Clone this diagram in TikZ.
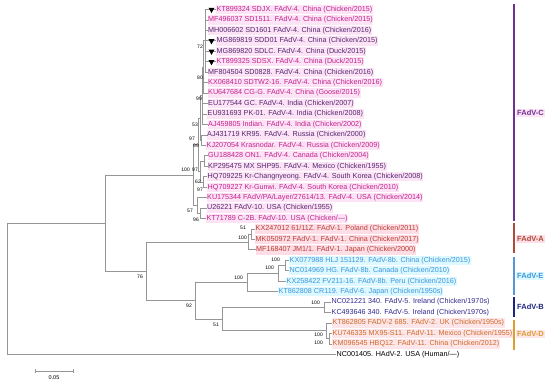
\documentclass[tikz,border=0pt]{standalone}
\usepackage{fontspec}
\setmainfont{Liberation Sans}
\usetikzlibrary{shapes.geometric}
\definecolor{treegray}{RGB}{150,150,150}
\definecolor{cdark}{RGB}{84,38,110}
\definecolor{cmag}{RGB}{196,32,140}
\definecolor{cA}{RGB}{186,60,50}
\definecolor{cE}{RGB}{58,150,220}
\definecolor{cB}{RGB}{48,40,140}
\definecolor{cD}{RGB}{205,105,35}
\definecolor{bgC}{RGB}{252,228,246}
\definecolor{bgA}{RGB}{253,222,230}
\definecolor{bgE}{RGB}{222,248,255}
\definecolor{bgD}{RGB}{253,230,234}
\definecolor{brC}{RGB}{112,48,146}
\definecolor{brA}{RGB}{176,74,56}
\definecolor{brE}{RGB}{88,150,220}
\definecolor{brB}{RGB}{30,36,128}
\definecolor{brD}{RGB}{222,158,46}
\tikzset{
  branch/.style={draw=treegray, line width=0.8pt},
  leafname/.style={anchor=west, inner xsep=0.5pt, inner ysep=1.3pt, font=\fontsize{7.2}{8}\selectfont},
  grpC/.style={leafname, fill=bgC},
  grpA/.style={leafname, fill=bgA, text=cA},
  grpE/.style={leafname, fill=bgE, text=cE},
  grpB/.style={leafname, text=cB},
  grpD/.style={leafname, fill=bgD, text=cD},
  boot/.style={anchor=east, inner sep=0pt, font=\fontsize{5}{5}\selectfont},
  clade/.style={anchor=west, inner sep=1pt, font=\fontsize{7.5}{8}\selectfont\bfseries},
  cladebar/.style={line width=1.5pt},
  tipmark/.style={regular polygon, regular polygon sides=3, shape border rotate=180,
    fill=black, inner sep=0pt, minimum size=7pt},
}

\begin{document}
\begin{tikzpicture}[x=1pt, y=-1pt]
  \useasboundingbox (0,0) rectangle (550,384);

%internal nodes:
  \coordinate (n72)  at (205,40.85);
  \coordinate (n80)  at (203.5,67.0);
  \coordinate (n99a) at (202.5,95.7);
  \coordinate (nRus) at (201,140.1);
  \coordinate (n53)  at (200,117.9);
  \coordinate (nOM)  at (204,161.0);
  \coordinate (nKor) at (203,181.9);
  \coordinate (nNA)  at (200.5,171.5);
  \coordinate (n99b) at (198.5,144.7);
  \coordinate (n96)  at (200,213.3);
  \coordinate (n57)  at (197,205.4);
  \coordinate (nC)   at (193,175.05);
  \coordinate (n51)  at (251,234.2);
  \coordinate (nA)   at (248,242.0);
  \coordinate (nE3)  at (285,265.5);
  \coordinate (nE2)  at (278,273.4);
  \coordinate (nE)   at (247,282.5);
  \coordinate (nB)   at (324,307.3);
  \coordinate (nD2)  at (329,338.7);
  \coordinate (nD)   at (326,330.8);
  \coordinate (n51b) at (222,319.1);
  \coordinate (n92)  at (195,300.8);
  \coordinate (n76)  at (146,271.4);
  \coordinate (nOut) at (105,223.2);
  \coordinate (n0)   at (7.5,288.8);

%leaves, FAdV-C:
  \node[grpC, text=cmag]  (s1)  at (216,9.5)    {KT899324 SDJX. FAdV-4. China (Chicken/2015)};
  \node[grpC, text=cmag]  (s2)  at (207.5,19.95) {MF496037 SD1511. FAdV-4. China (Chicken/2015)};
  \node[grpC, text=cdark] (s3)  at (207.5,30.4)  {MH006602 SD1601 FAdV-4. China (Chicken/2016)};
  \node[grpC, text=cdark] (s4)  at (216,40.85)  {MG869819 SDD01 FAdV-4. China (Chicken/2015)};
  \node[grpC, text=cdark] (s5)  at (216,51.3)   {MG869820 SDLC. FAdV-4. China (Duck/2015)};
  \node[grpC, text=cmag]  (s6)  at (216,61.75)  {KT899325 SDSX. FAdV-4. China (Duck/2015)};
  \node[grpC, text=cdark] (s7)  at (207.5,72.2)  {MF804504 SD0828. FAdV-4. China (Chicken/2016)};
  \node[grpC, text=cmag]  (s8)  at (207.5,82.65) {KX068410 SDTW2-16. FAdV-4. China (Chicken/2016)};
  \node[grpC, text=cmag]  (s9)  at (207.5,93.1)  {KU647684 CG-G. FAdV-4. China (Goose/2015)};
  \node[grpC, text=cdark] (s10) at (207.5,103.55) {EU177544 GC. FAdV-4. India (Chicken/2007)};
  \node[grpC, text=cdark] (s11) at (207,114.0)  {EU931693 PK-01. FAdV-4. India (Chicken/2008)};
  \node[grpC, text=cmag]  (s12) at (207.5,124.45) {AJ459805 Indian. FAdV-4. India (Chicken/2002)};
  \node[grpC, text=cdark] (s13) at (206.5,134.9) {AJ431719 KR95. FAdV-4. Russia (Chicken/2000)};
  \node[grpC, text=cmag]  (s14) at (206,145.35) {KJ207054 Krasnodar. FAdV-4. Russia (Chicken/2009)};
  \node[grpC, text=cmag]  (s15) at (207.5,155.8) {GU188428 ON1. FAdV-4. Canada (Chicken/2004)};
  \node[grpC, text=cdark] (s16) at (207.5,166.25) {KP295475 MX SHP95. FAdV-4. Mexico (Chicken/1955)};
  \node[grpC, text=cdark] (s17) at (207,176.7)  {HQ709225 Kr-Changnyeong. FAdV-4. South Korea (Chicken/2008)};
  \node[grpC, text=cmag]  (s18) at (207,187.15) {HQ709227 Kr-Gunwi. FAdV-4. South Korea (Chicken/2010)};
  \node[grpC, text=cmag]  (s19) at (206.5,197.6) {KU175344 FAdV/PA/Layer/27614/13. FAdV-4. USA (Chicken/2014)};
  \node[grpC, text=cdark] (s20) at (206.5,208.05) {U26221 FAdV-10. USA (Chicken/1955)};
  \node[grpC, text=cmag]  (s21) at (206,218.5)  {KT71789 C-2B. FAdV-10. USA (Chicken/---)};
%leaves, other groups:
  \node[grpA] (s22) at (255,228.95) {KX247012 61/11Z. FAdV-1. Poland (Chicken/2011)};
  \node[grpA] (s23) at (255,239.4)  {MK050972 FAdV-1. FAdV-1. China (Chicken/2017)};
  \node[grpA] (s24) at (255.5,249.85) {MF168407 JM1/1. FAdV-1. Japan (Chicken/2000)};
  \node[grpE] (s25) at (289,260.3)  {KX077988 HLJ 151129. FAdV-8b. China (Chicken/2015)};
  \node[grpE] (s26) at (289,270.75) {NC014969 HG. FAdV-8b. Canada (Chicken/2010)};
  \node[grpE] (s27) at (286,281.2)  {KX258422 FV211-16. FAdV-8b. Peru (Chicken/2016)};
  \node[grpE] (s28) at (278,291.65) {KT862808 CR119. FAdV-6. Japan (Chicken/1950s)};
  \node[grpB] (s29) at (331,302.1)  {NC021221 340. FAdV-5. Ireland (Chicken/1970s)};
  \node[grpB] (s30) at (331,312.55) {KC493646 340. FAdV-5. Ireland (Chicken/1970s)};
  \node[grpD] (s31) at (332,323.0)  {KT862805 FADV-2 685. FAdV-2. UK (Chicken/1950s)};
  \node[grpD] (s32) at (332,333.45) {KU746335 MX95-S11. FAdV-11. Mexico (Chicken/1955)};
  \node[grpD] (s33) at (332,343.9)  {KM096545 HBQ12. FAdV-11. China (Chicken/2012)};
  \node[leafname] (s34) at (336,354.35) {NC001405. HAdV-2. USA (Human/---)};

%branches:
  \foreach \s in {s1,s2,s3,s4,s5,s6,s7} \draw[branch] (n72) |- (\s.west);
  \foreach \c in {n72,s8.west,s9.west} \draw[branch] (n80) |- (\c);
  \foreach \c in {n80,s10.west,s11.west,s12.west} \draw[branch] (n99a) |- (\c);
  \foreach \c in {s13.west,s14.west} \draw[branch] (nRus) |- (\c);
  \foreach \c in {n99a,nRus} \draw[branch] (n53) |- (\c);
  \foreach \c in {s15.west,s16.west} \draw[branch] (nOM) |- (\c);
  \foreach \c in {s17.west,s18.west} \draw[branch] (nKor) |- (\c);
  \foreach \c in {nOM,nKor} \draw[branch] (nNA) |- (\c);
  \foreach \c in {n53,nNA} \draw[branch] (n99b) |- (\c);
  \foreach \c in {s20.west,s21.west} \draw[branch] (n96) |- (\c);
  \foreach \c in {s19.west,n96} \draw[branch] (n57) |- (\c);
  \foreach \c in {n99b,n57} \draw[branch] (nC) |- (\c);
  \foreach \c in {s22.west,s23.west} \draw[branch] (n51) |- (\c);
  \foreach \c in {n51,s24.west} \draw[branch] (nA) |- (\c);
  \foreach \c in {s25.west,s26.west} \draw[branch] (nE3) |- (\c);
  \foreach \c in {nE3,s27.west} \draw[branch] (nE2) |- (\c);
  \foreach \c in {nE2,s28.west} \draw[branch] (nE) |- (\c);
  \foreach \c in {s29.west,s30.west} \draw[branch] (nB) |- (\c);
  \foreach \c in {s32.west,s33.west} \draw[branch] (nD2) |- (\c);
  \foreach \c in {s31.west,nD2} \draw[branch] (nD) |- (\c);
  \foreach \c in {nB,nD} \draw[branch] (n51b) |- (\c);
  \foreach \c in {nE,n51b} \draw[branch] (n92) |- (\c);
  \foreach \c in {nA,n92} \draw[branch] (n76) |- (\c);
  \foreach \c in {nC,n76} \draw[branch] (nOut) |- (\c);
  \foreach \c in {nOut,s34.west} \draw[branch] (n0) |- (\c);

%markers:
  \foreach \s in {s1,s4,s5,s6} \node[tipmark] (m\s) at ([xshift=-4.5pt]\s.west) {};

%bootstrap values:
  \node[boot] (b1)  at (203,47)  {72};
  \node[boot] (b2)  at (203,78)  {80};
  \node[boot] (b3)  at (202,99)  {99};
  \node[boot] (b4)  at (198,125) {53};
  \node[boot] (b5)  at (195,139) {97};
  \node[boot] (b6)  at (199,146) {99};
  \node[boot] (b7)  at (190,170) {100};
  \node[boot] (b8)  at (198,170) {97};
  \node[boot] (b9)  at (201,182) {62};
  \node[boot] (b10) at (203,190) {97};
  \node[boot] (b11) at (193,211) {57};
  \node[boot] (b12) at (199,220) {96};
  \node[boot] (b13) at (246,228) {51};
  \node[boot] (b14) at (247,238) {100};
  \node[boot] (b15) at (280,260) {100};
  \node[boot] (b16) at (274,268) {100};
  \node[boot] (b17) at (243,278) {100};
  \node[boot] (b18) at (143,277) {76};
  \node[boot] (b19) at (192,306) {92};
  \node[boot] (b20) at (219,325) {51};
  \node[boot] (b21) at (320,303) {100};
  \node[boot] (b22) at (323,335) {100};
  \node[boot] (b23) at (323,343) {100};

%clades:
  \draw[cladebar, brC] (514,4)   -- (514,221);
  \draw[cladebar, brA] (514,223) -- (514,253);
  \draw[cladebar, brE] (514,257) -- (514,295);
  \draw[cladebar, brB] (514,297) -- (514,317);
  \draw[cladebar, brD] (514,320) -- (514,350);
  \node[clade, fill=bgC, text=brC] (kC) at (516,113) {FAdV-C};
  \node[clade, fill=bgA, text=brA] (kA) at (516,239) {FAdV-A};
  \node[clade, fill=bgE, text=cE]  (kE) at (516,276) {FAdV-E};
  \node[clade, text=brB]           (kB) at (516,307) {FAdV-B};
  \node[clade, fill=bgD, text=brD] (kD) at (516,334) {FAdV-D};

%scale bar:
  \draw[branch, line width=0.6pt] (35,369) -- (35,373) (35,371) -- (73,371) (73,369) -- (73,373);
  \node[inner sep=0pt, font=\fontsize{5.5}{6}\selectfont] (sb) at (54,378) {0.05};

\end{tikzpicture}
\end{document}
